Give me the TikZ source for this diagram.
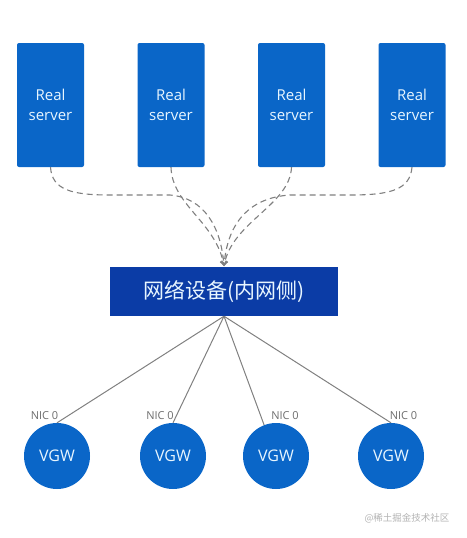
\documentclass[tikz,border=0pt]{standalone}
\usepackage{fontspec}
\setmainfont{Open Sans}
\newfontfamily\cjk{Noto Sans CJK SC}
\usetikzlibrary{arrows.meta}
\definecolor{srvblue}{HTML}{0A66C8}
\definecolor{netblue}{HTML}{0B3CA6}
\definecolor{lineg}{HTML}{808080}
\definecolor{txtw}{HTML}{E8F6FF}
\begin{document}
\begin{tikzpicture}[x=1pt,y=-1pt,
  server/.style={fill=srvblue, rounded corners=2pt, minimum width=67pt, minimum height=124pt, inner sep=0pt, text=txtw, font=\fontsize{15}{20}\selectfont, align=center},
  netbox/.style={fill=netblue, minimum width=228pt, minimum height=49pt, inner sep=0pt, text=txtw, font=\cjk\fontsize{21}{24}\selectfont},
  vgw/.style={circle, fill=srvblue, minimum size=66pt, inner sep=0pt, text=txtw, font=\fontsize{16}{18}\selectfont},
  nic/.style={text=lineg!85!black, font=\fontsize{11}{12}\selectfont, inner sep=0pt},
  dashlink/.style={draw=lineg, line width=1.1pt, dash pattern=on 6pt off 4pt, -{Straight Barb[length=4pt,width=6pt,line width=1pt]}},
  solidlink/.style={draw=lineg, line width=1pt}
]
\useasboundingbox (0,0) rectangle (466,538);

\node[server] (s1) at (50.5,105) {Real\\server};
\node[server] (s2) at (171,105) {Real\\server};
\node[server] (s3) at (291.5,105) {Real\\server};
\node[server] (s4) at (412,105) {Real\\server};

\node[netbox] (net) at (224,291.5) {网络设备(内网侧)};
\coordinate (tgt) at (224,266);

\draw[dashlink] (s1.south) .. controls (52,190) and (72,195) .. (110,195) -- (170,195) .. controls (205,198) and (221,228) .. (tgt);
\draw[dashlink] (s2.south) .. controls (172,205) and (216,222) .. (tgt);
\draw[dashlink] (s3.south) .. controls (290,205) and (232,222) .. (tgt);
\draw[dashlink] (s4.south) .. controls (410,190) and (390,195) .. (350,195) -- (290,195) .. controls (245,198) and (227,228) .. (tgt);

\node[vgw] (c1) at (57,456) {VGW};
\node[vgw] (c2) at (173,456) {VGW};
\node[vgw] (c3) at (276,456) {VGW};
\node[vgw] (c4) at (391,456) {VGW};

\draw[solidlink] (net.south) -- (c1.north);
\draw[solidlink] (net.south) -- (c2.north);
\draw[solidlink] (net.south) -- (c3.111);
\draw[solidlink] (net.south) -- (c4.north);

\node[nic] (n1) at (44.5,416) {NIC 0};
\node[nic] (n2) at (160,416) {NIC 0};
\node[nic] (n3) at (285,416) {NIC 0};
\node[nic] (n4) at (403.5,416) {NIC 0};

\node[text=black!30, font=\cjk\fontsize{9.5}{11}\selectfont, inner sep=0pt] (wm) at (407,518) {@稀土掘金技术社区};
\end{tikzpicture}
\end{document}
